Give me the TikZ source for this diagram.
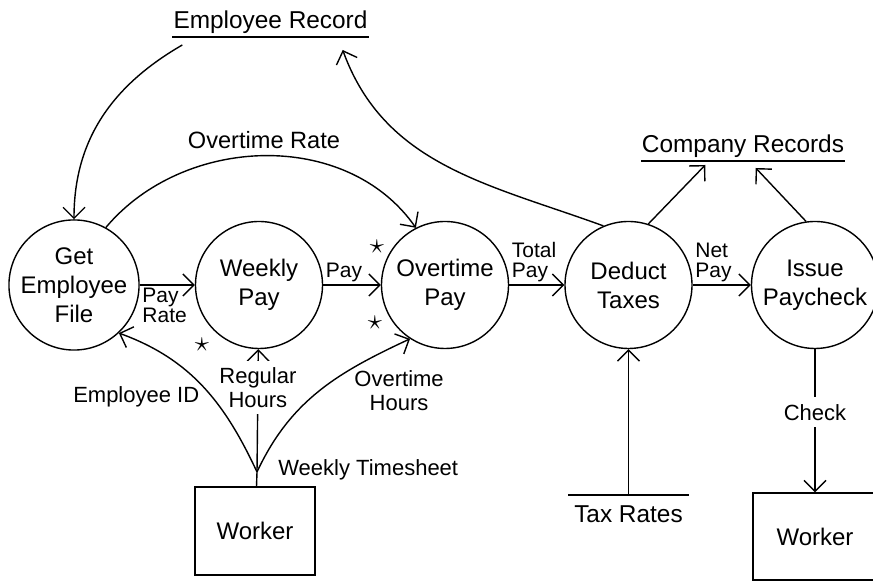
\documentclass[tikz,border=0pt]{standalone}
\usepackage{fontspec}
\setmainfont{Liberation Sans}
\usetikzlibrary{arrows.meta}

\begin{document}
\begin{tikzpicture}[x=0.5pt,y=0.5pt,line width=0.7pt,
    >={Straight Barb[length=5.5pt,width=11pt]},
    proc/.style={draw,circle,minimum size=63.5pt,inner sep=0pt,align=center,font=\fontsize{12}{14.5}\selectfont},
    ent/.style={draw,rectangle,font=\fontsize{12}{14.5}\selectfont},
    store/.style={inner xsep=0pt,inner ysep=1.5pt,font=\fontsize{12.2}{13}\selectfont},
    lbl/.style={font=\fontsize{11}{12}\selectfont,align=center},
    flow/.style={font=\fontsize{10.5}{10}\selectfont,align=left,inner sep=1pt},
    mark star/.style={inner sep=0pt,font=\fontsize{14}{14}\selectfont}]
    \useasboundingbox (0,0) rectangle (873,582);

    \node[proc](getfile) at (74, 297) {Get\\Employee\\File};
    \node[proc](weekly) at (259, 297) {Weekly\\Pay};
    \node[proc](overtime) at (445, 297) {Overtime\\Pay};
    \node[proc](deduct) at (628.5, 297) {Deduct\\Taxes};
    \node[proc](issue) at (815, 297) {Issue\\Paycheck};

    \node[ent,minimum width=60pt,minimum height=44pt](worker1) at (255, 51) {Worker};
    \node[ent,minimum width=62pt,minimum height=43.5pt](worker2) at (815, 45.5) {Worker};

    \node[store,anchor=south,minimum width=97.5pt](emprec) at (270.5, 545) {Employee Record};
    \node[store,anchor=south,minimum width=99pt](comprec) at (743, 421) {Company Records};
    \node[store,anchor=north,minimum width=59.5pt,inner ysep=5pt](taxrates) at (628.5, 87) {Tax Rates};
    \draw (emprec.south west) -- (emprec.south east);
    \draw (comprec.south west) -- (comprec.south east);
    \draw (taxrates.north west) -- (taxrates.north east);

    \node[mark star](star1) at (377, 335) {$\star$};
    \node[mark star](star2) at (375, 259) {$\star$};
    \node[mark star](star3) at (202, 237) {$\star$};

    \coordinate (ts) at (257, 110);
    \node[lbl,anchor=west](tslbl) at ([xshift=7pt,yshift=1pt]ts) {Weekly Timesheet};

    \draw[->] ([xshift=5pt,yshift=-4pt]emprec.south west) to[out=-150,in=90] (getfile.north);
    \draw[->] (deduct.113) to[out=160,in=-70] ([xshift=-13pt,yshift=-6.5pt]emprec.south east);
    \draw[->] (getfile.61) to[out=50,in=125] node[lbl,above,font=\fontsize{11.8}{13}\selectfont]{Overtime Rate} (overtime.117);

    \draw[->] (getfile) -- node[flow,pos=0,below right]{Pay\\Rate} (weekly);
    \draw[->] (weekly) -- node[flow,pos=0,above right]{Pay} (overtime);
    \draw[->] (overtime) -- node[flow,pos=0,above right]{Total\\Pay} (deduct);
    \draw[->] (deduct) -- node[flow,pos=0,above right]{Net\\Pay} (issue);

    \draw (worker1) -- (ts);
    \draw[->] (ts) -- node[lbl,fill=white,pos=0.69]{Regular\\Hours} (weekly);
    \draw[->] (ts) to[out=115,in=-20] node[lbl,pos=0.47,left,yshift=-3pt]{Employee ID} (getfile.-47);
    \draw[->] (ts) to[out=65,in=-155] node[lbl,pos=0.5,right=14pt]{Overtime\\Hours} (overtime.-123);

    \draw[->] (taxrates.north) -- (deduct.south);
    \draw[->] (deduct.72) -- ([xshift=32pt,yshift=-2pt]comprec.south west);
    \draw[->] (issue.98) -- ([xshift=-44.5pt,yshift=-3.5pt]comprec.south east);
    \draw[->] (issue) -- node[lbl,fill=white,pos=0.44]{Check} (worker2);
\end{tikzpicture}
\end{document}
